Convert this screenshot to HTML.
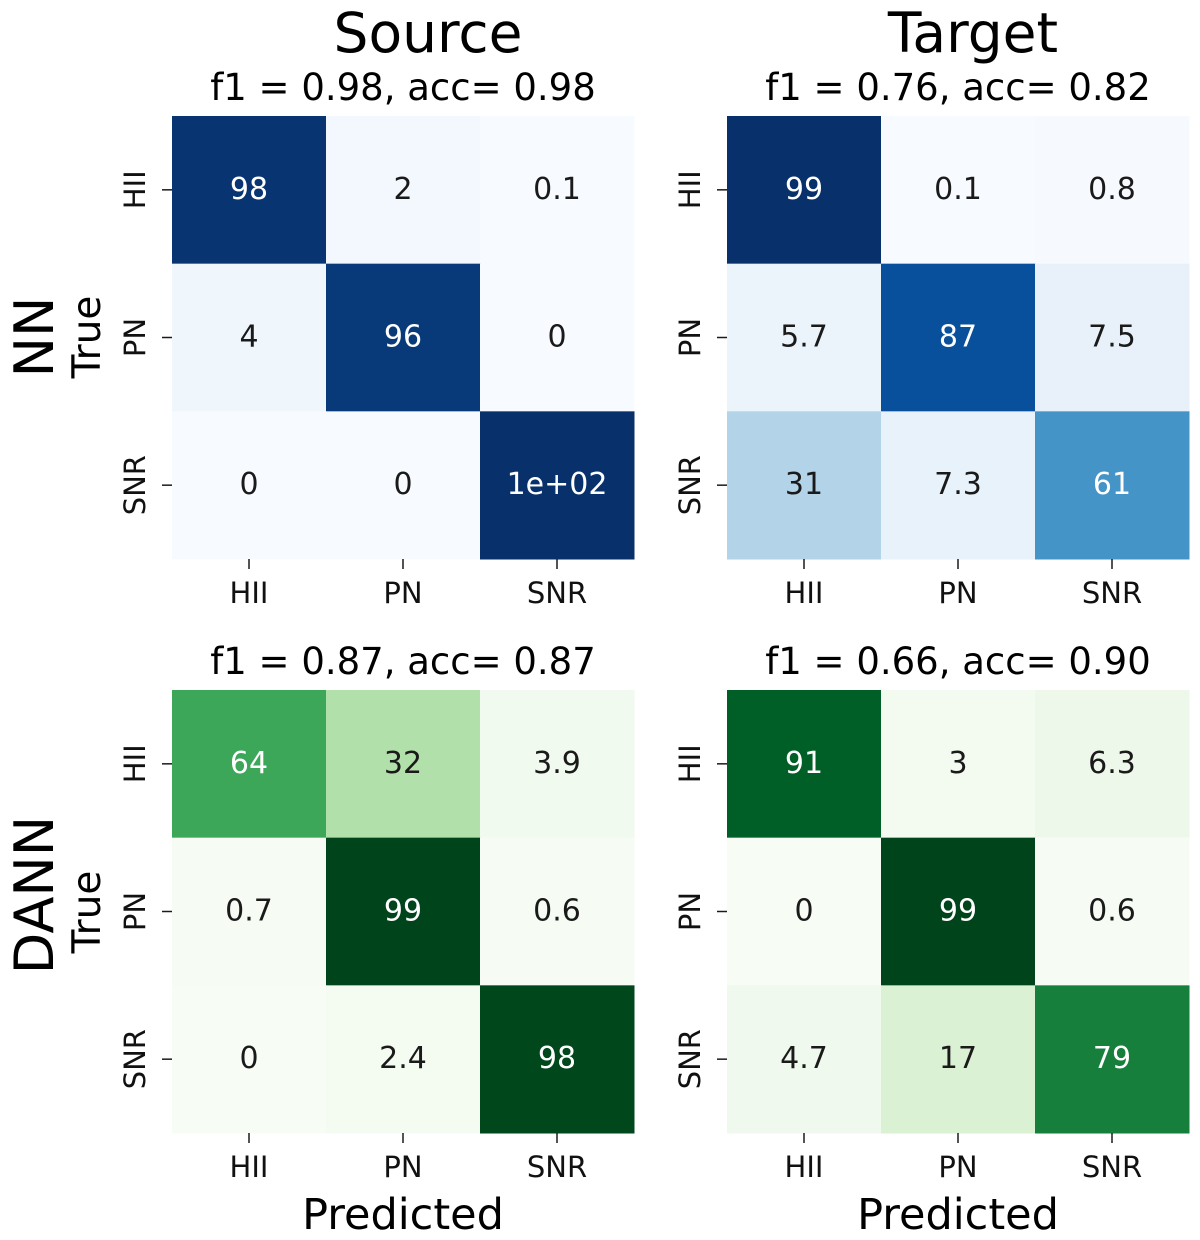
<!DOCTYPE html>
<html><head><meta charset="utf-8"><style>
html,body{margin:0;padding:0;background:#fff;}
svg{display:block;font-family:"DejaVu Sans","Liberation Sans",sans-serif;}
</style></head><body>
<svg id="fig" width="1200" height="1240" viewBox="0 0 1200 1240"></svg>
<script>
const classes = ["HII","PN","SNR"];
const nnSource = [[98,2,0.1],[4,96,0],[0,0,99.9]];
const nnSourceLabels = [["98","2","0.1"],["4","96","0"],["0","0","1e+02"]];
const nnTarget = [[99,0.1,0.8],[5.7,87,7.5],[31,7.3,61]];
const nnTargetLabels = [["99","0.1","0.8"],["5.7","87","7.5"],["31","7.3","61"]];
const dannSource = [[64,32,3.9],[0.7,99,0.6],[0,2.4,98]];
const dannSourceLabels = [["64","32","3.9"],["0.7","99","0.6"],["0","2.4","98"]];
const dannTarget = [[91,3,6.3],[0,99,0.6],[4.7,17,79]];
const dannTargetLabels = [["91","3","6.3"],["0","99","0.6"],["4.7","17","79"]];
const subtitles = ["f1 = 0.98, acc= 0.98","f1 = 0.76, acc= 0.82","f1 = 0.87, acc= 0.87","f1 = 0.66, acc= 0.90"];

const BLUES=["#f7fbff","#deebf7","#c6dbef","#9ecae1","#6baed6","#4292c6","#2171b5","#08519c","#08306b"];
const GREENS=["#f7fcf5","#e5f5e0","#c7e9c0","#a1d99b","#74c476","#41ab5d","#238b45","#006d2c","#00441b"];
const svg=document.getElementById('fig');
const NS="http://www.w3.org/2000/svg";
function hex(h){return [1,3,5].map(i=>parseInt(h.substr(i,2),16));}
function cmap(stops,t){t=Math.max(0,Math.min(1,t));const p=t*(stops.length-1);const i=Math.min(Math.floor(p),stops.length-2);const f=p-i;const a=hex(stops[i]),b=hex(stops[i+1]);return a.map((v,k)=>Math.round(v+(b[k]-v)*f));}
function lum(c){const l=c.map(v=>{v/=255;return v<=0.03928?v/12.92:Math.pow((v+0.055)/1.055,2.4);});return 0.2126*l[0]+0.7152*l[1]+0.0722*l[2];}
function el(tag,attrs,text){const e=document.createElementNS(NS,tag);for(const k in attrs)e.setAttribute(k,attrs[k]);if(text!==undefined)e.textContent=text;svg.appendChild(e);return e;}

function panel(data,labels,stops,x0,y0,name,sub){
  const W=462,H=443,cw=W/3,ch=H/3;
  const flat=data.flat();const mn=Math.min(...flat),mx=Math.max(...flat);
  const colX=j=>x0+j*cw, rowY=i=>y0+i*ch;
  for(let i=0;i<3;i++)for(let j=0;j<3;j++){
    const c=cmap(stops,(data[i][j]-mn)/(mx-mn));
    const r=el('rect',{x:colX(j),y:rowY(i),width:cw+0.5,height:ch+0.5,fill:`rgb(${c})`});
    
    
    const t=el('text',{x:colX(j)+cw/2,y:rowY(i)+ch/2+9,'text-anchor':'middle','font-size':30,fill:lum(c)<0.408?'#fff':'#1a1a1a'},labels[i][j]);
    
    
  }
  for(let k=0;k<3;k++){
    const yc=rowY(k)+ch/2, xc=colX(k)+cw/2;
    el('line',{x1:x0-10,x2:x0,y1:yc,y2:yc,stroke:'#1a1a1a','stroke-width':1.5});
    const yl=el('text',{x:0,y:0,transform:`translate(${x0-27},${yc}) rotate(-90)`,'text-anchor':'middle','font-size':29,fill:'#111'},classes[k]);
    
    
    el('line',{x1:xc,x2:xc,y1:y0+H,y2:y0+H+10,stroke:'#1a1a1a','stroke-width':1.5});
    const xl=el('text',{x:xc,y:y0+H+44,'text-anchor':'middle','font-size':29,fill:'#111'},classes[k]);
    
    
  }
  const st=el('text',{x:x0+W/2,y:y0-16,'text-anchor':'middle','font-size':37,fill:'#000'},sub);
  
  
}
panel(nnSource,nnSourceLabels,BLUES,172,116,'nn-source',subtitles[0]);
panel(nnTarget,nnTargetLabels,BLUES,727,116,'nn-target',subtitles[1]);
panel(dannSource,dannSourceLabels,GREENS,172,690,'dann-source',subtitles[2]);
panel(dannTarget,dannTargetLabels,GREENS,727,690,'dann-target',subtitles[3]);

function label(txt,x,y,size,rot,name){
  const t=el('text',{x:0,y:0,transform:`translate(${x},${y})`+(rot?' rotate(-90)':''),'text-anchor':'middle','font-size':size,fill:'#000'},txt);
  
  
}
label('Source',428,52,55,false,'source-column-title');
label('Target',973,52,55,false,'target-column-title');
label('True',100,337,39,true,'nn-y-axis-title');
label('True',100,912,39,true,'dann-y-axis-title');
label('NN',53,337,54,true,'nn-row-title');
label('DANN',53,895,54,true,'dann-row-title');
label('Predicted',403,1229,43,false,'source-x-axis-title');
label('Predicted',958,1229,43,false,'target-x-axis-title');
</script>
</body></html>
